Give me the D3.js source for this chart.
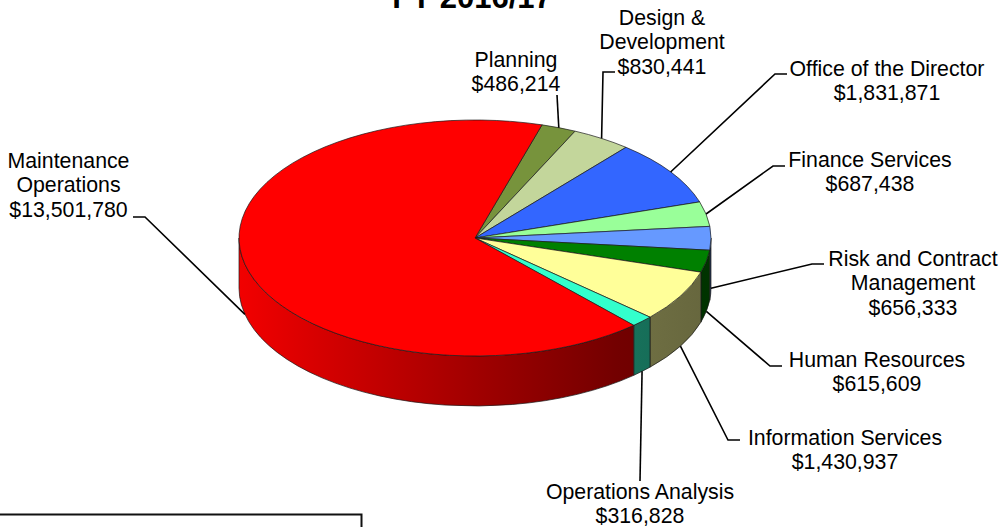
<!DOCTYPE html>
<html>
<head>
<meta charset="utf-8">
<script src="https://cdn.jsdelivr.net/npm/d3@7"></script>
<style>
  html, body { margin: 0; padding: 0; background: #fff; }
  svg { display: block; }
  text { font-family: Arial, "Liberation Sans", sans-serif; fill: #000; }
</style>
</head>
<body>
<svg id="chart" width="1006" height="527"></svg>
<script>
// Budget by division, FY 2016/17 (slice order runs clockwise from Planning)
const categories = [
  "Planning", "Design & Development", "Office of the Director", "Finance Services",
  "Risk and Contract Management", "Human Resources", "Information Services",
  "Operations Analysis", "Maintenance Operations"
];
const values = [486214, 830441, 1831871, 687438, 656333, 615609, 1430937, 316828, 13501780];
const labelLines = [
  ["Planning"], ["Design &", "Development"], ["Office of the Director"], ["Finance Services"],
  ["Risk and Contract", "Management"], ["Human Resources"], ["Information Services"],
  ["Operations Analysis"], ["Maintenance", "Operations"]
];
const colors = ["#77933C", "#C3D69B", "#3366FF", "#99FF99", "#6699FF", "#008000", "#FFFF99", "#33FFCC", "#FF0000"];
const title = "FY 2016/17";

// Label placement: text centre x, first baseline y, and the leader's elbow points
const labelLayout = [
  { x: 516, y: 67,  lead: [[557, 95]] },
  { x: 662, y: 25,  lead: [[615, 72], [603, 72]] },
  { x: 887, y: 76,  lead: [[787, 74], [775, 74]] },
  { x: 870, y: 167, lead: [[785, 166], [773, 166]] },
  { x: 913, y: 266, lead: [[824, 264], [812, 264]] },
  { x: 877, y: 367, lead: [[782, 366], [770, 366]] },
  { x: 845, y: 445, lead: [[740, 440], [728, 440]] },
  { x: 640, y: 499, lead: [[640, 481]] },
  { x: 68.5, y: 168, lead: [[133, 217], [145, 217]] }
];

const svg = d3.select("#chart");
const cx = 475, cy = 238, rx = 236, ry = 118, depth = 50;
const lineH = 24.3;
const start = 16.5 * Math.PI / 180;

const pie = d3.pie().sort(null).value(d => d)
  .startAngle(start).endAngle(start + 2 * Math.PI);
const arcs = pie(values);

// angle measured clockwise from 12 o'clock, projected onto the tilted disc
const pt = (a, dz = 0) => [cx + rx * Math.sin(a), cy - ry * Math.cos(a) + dz];

// side shading: lit from the left, falling into shadow on the right
const shade = d3.scaleLinear().domain([0, 0.5, 0.8, 1]).range([0.95, 0.63, 0.45, 0.4]);
const defs = svg.append("defs");
colors.forEach((c, i) => {
  const g = defs.append("linearGradient")
    .attr("id", "side" + i)
    .attr("gradientUnits", "userSpaceOnUse")
    .attr("x1", cx - rx).attr("x2", cx + rx).attr("y1", 0).attr("y2", 0);
  const base = d3.rgb(c);
  [0, 0.25, 0.5, 0.65, 0.8, 0.9, 1].forEach(o => {
    const f = shade(o);
    g.append("stop").attr("offset", o)
      .attr("stop-color", d3.rgb(base.r * f, base.g * f, base.b * f).formatHex());
  });
});

// visible front walls (between 3 o'clock and 9 o'clock through 6 o'clock)
const sides = svg.append("g");
arcs.forEach((d, i) => {
  const s0 = Math.max(d.startAngle, Math.PI / 2);
  const s1 = Math.min(d.endAngle, 3 * Math.PI / 2);
  if (s1 <= s0) return;
  const a = pt(s0), b = pt(s1), b2 = pt(s1, depth), a2 = pt(s0, depth);
  sides.append("path")
    .attr("d", `M${a}A${rx},${ry} 0 0 1 ${b}L${b2}A${rx},${ry} 0 0 0 ${a2}Z`)
    .attr("fill", `url(#side${i})`)
    .attr("stroke", "#1a1a1a").attr("stroke-width", 0.7)
    .attr("stroke-linejoin", "round");
});

// top faces
const tops = svg.append("g");
arcs.forEach((d, i) => {
  const p0 = pt(d.startAngle), p1 = pt(d.endAngle);
  const large = d.endAngle - d.startAngle > Math.PI ? 1 : 0;
  tops.append("path")
    .attr("d", `M${cx},${cy}L${p0}A${rx},${ry} 0 ${large} 1 ${p1}Z`)
    .attr("fill", colors[i])
    .attr("stroke", "#1a1a1a").attr("stroke-width", 0.7)
    .attr("stroke-linejoin", "round");
});

// leader lines: from the label to the slice's mid-angle on the rim
const fmt = d3.format("$,");
const leaders = svg.append("g").attr("fill", "none").attr("stroke", "#000").attr("stroke-width", 1.6);
const labels = svg.append("g").attr("font-size", 21.3).attr("text-anchor", "middle");
arcs.forEach((d, i) => {
  const mid = (d.startAngle + d.endAngle) / 2;
  const m = ((mid % (2 * Math.PI)) + 2 * Math.PI) % (2 * Math.PI);
  const front = m > Math.PI / 2 && m < 3 * Math.PI / 2;
  const anchor = pt(mid, front ? depth : 0);
  const L = labelLayout[i];
  leaders.append("polyline")
    .attr("points", [...L.lead, anchor].map(p => p.join(",")).join(" "));
  const lines = [...labelLines[i], fmt(values[i])];
  const t = labels.append("text").attr("x", L.x).attr("y", L.y);
  lines.forEach((s, k) => {
    t.append("tspan").attr("x", L.x).attr("y", L.y + k * lineH).text(s);
  });
});

// title
svg.append("text")
  .attr("x", 472).attr("y", 8)
  .attr("text-anchor", "middle")
  .attr("font-size", 31).attr("font-weight", "bold")
  .text(title);

// frame of the notes box at the lower left
svg.append("path")
  .attr("d", "M-2,514.5H361.5V530")
  .attr("fill", "none").attr("stroke", "#111").attr("stroke-width", 2);
</script>
</body>
</html>
